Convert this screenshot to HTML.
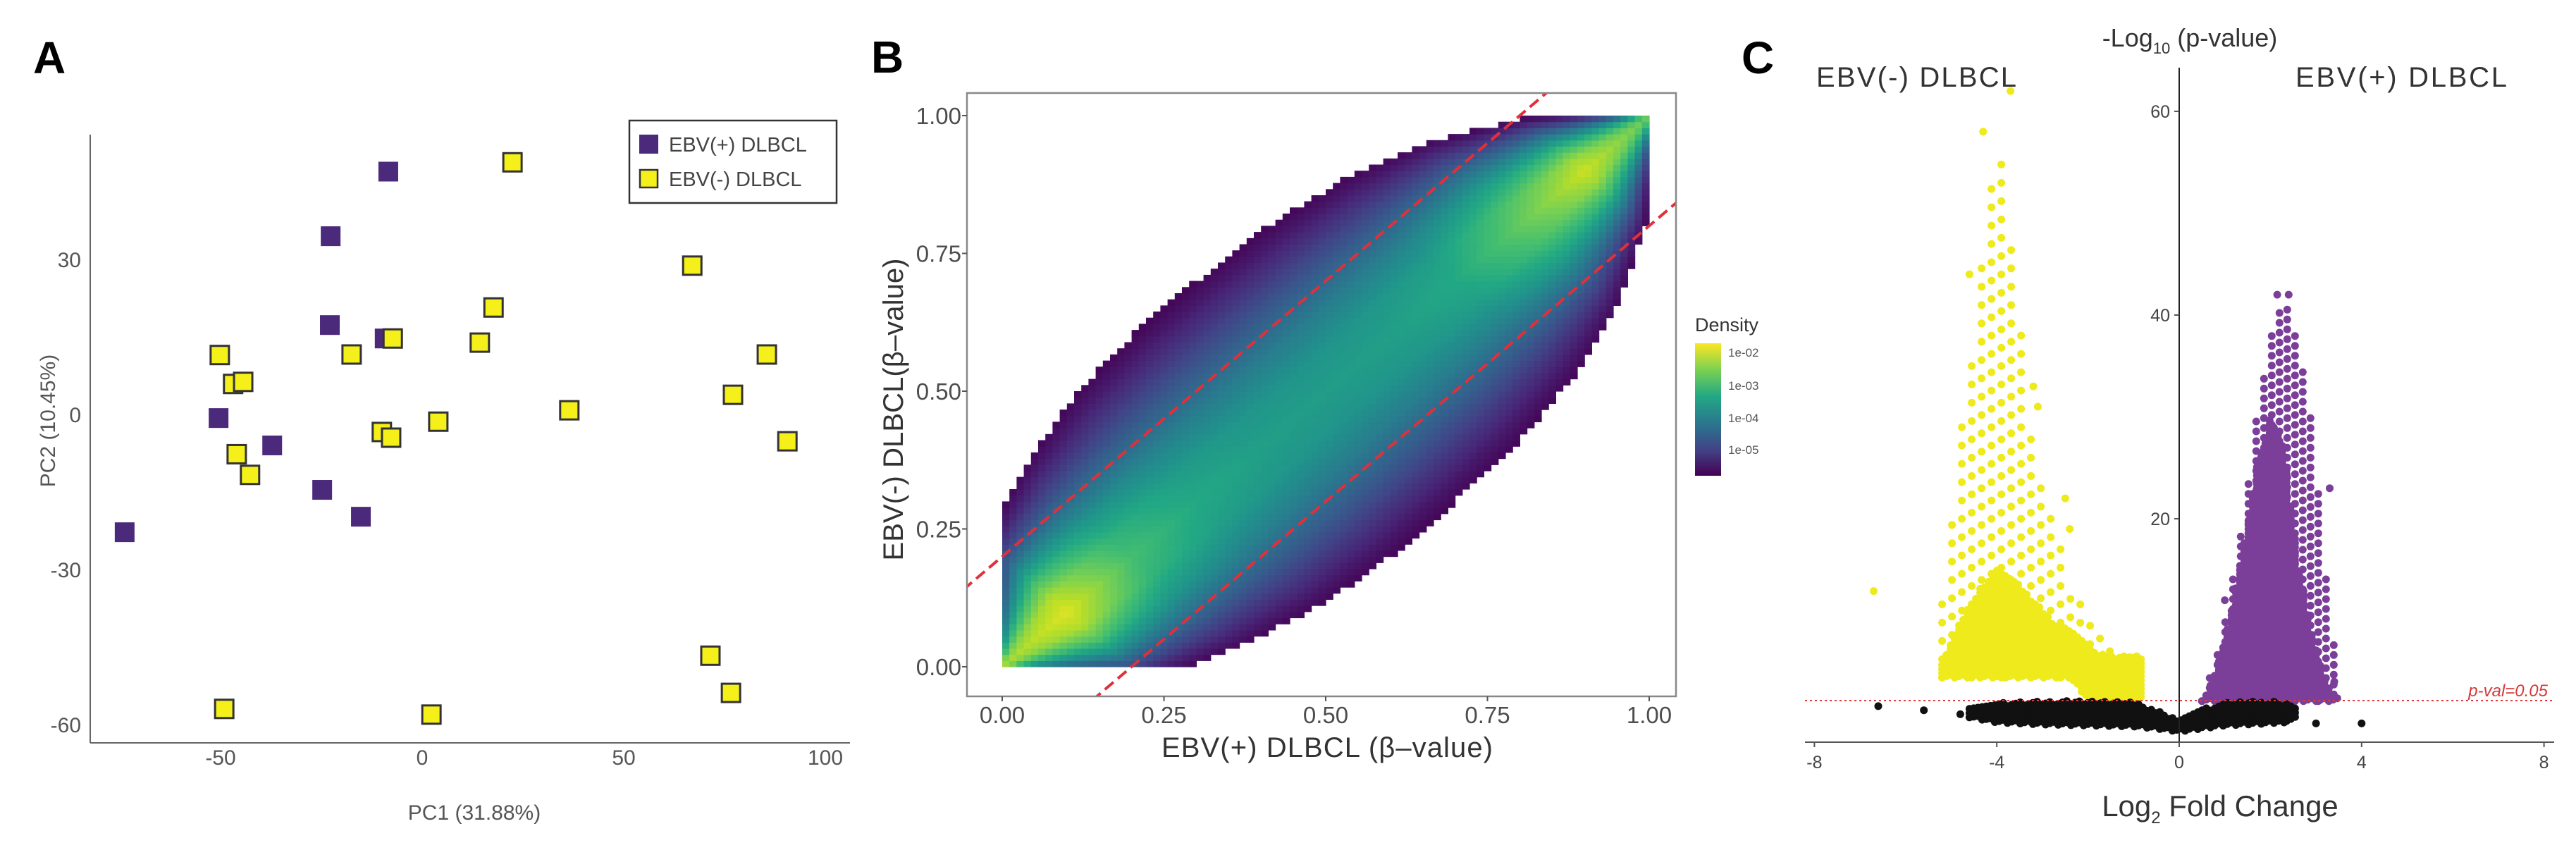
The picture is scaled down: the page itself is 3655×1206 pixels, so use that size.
<!DOCTYPE html>
<html><head><meta charset="utf-8"><style>
html,body{margin:0;padding:0;background:#fff;}
svg{display:block;font-family:"Liberation Sans",Arial,sans-serif;}
</style></head><body>
<svg id="fig" width="3655" height="1206" viewBox="0 0 3655 1206" xmlns="http://www.w3.org/2000/svg">
<rect width="3655" height="1206" fill="#fff"/>
<defs><clipPath id="clipB"><rect x="1372" y="132" width="1006" height="856"/></clipPath></defs>

<text x="47" y="104" font-size="64" font-weight="bold">A</text>
<text x="1236" y="103" font-size="64" font-weight="bold">B</text>
<text x="2471" y="104" font-size="64" font-weight="bold">C</text>

<g id="panelA">
<line x1="128" y1="191" x2="128" y2="1054" stroke="#666" stroke-width="2"/>
<line x1="128" y1="1054" x2="1206" y2="1054" stroke="#666" stroke-width="2"/>
<g id="aTicks" font-size="30" fill="#555"></g>
<g id="aPts"></g>
<text x="673" y="1163" font-size="30" fill="#555" text-anchor="middle">PC1 (31.88%)</text>
<text x="0" y="0" font-size="30" fill="#555" text-anchor="middle" transform="translate(78,597) rotate(-90)">PC2 (10.45%)</text>
<g>
<rect x="893" y="171" width="294" height="117" fill="#fff" stroke="#333" stroke-width="2.5"/>
<g><rect x="907" y="191" width="27" height="27" fill="#4b2a7b"/>
<text x="949" y="215" font-size="29" fill="#444">EBV(+) DLBCL</text></g>
<g><rect x="908" y="241" width="25" height="25" fill="#f5ef1a" stroke="#333" stroke-width="2.5"/>
<text x="949" y="264" font-size="29" fill="#444">EBV(-) DLBCL</text></g>
</g>
</g>

<g id="panelB">
<g id="bCells" clip-path="url(#clipB)"></g>
<g id="bLines" clip-path="url(#clipB)"></g>
<rect x="1372" y="132" width="1006" height="856" fill="none" stroke="#888" stroke-width="2.5"/>
<g id="bTicks" font-size="33" fill="#4d4d4d"></g>
<text x="1883" y="1074" font-size="40" fill="#333" text-anchor="middle" textLength="470">EBV(+) DLBCL (β–value)</text>
<text x="0" y="0" font-size="40" fill="#333" text-anchor="middle" textLength="429" transform="translate(1281,581) rotate(-90)">EBV(-) DLBCL(β–value)</text>
<g>
<text x="2405" y="470" font-size="27" fill="#333">Density</text>
<defs><linearGradient id="vir" x1="0" y1="1" x2="0" y2="0">
<stop offset="0" stop-color="#440154"/><stop offset="0.2" stop-color="#414487"/><stop offset="0.4" stop-color="#2a788e"/><stop offset="0.6" stop-color="#22a884"/><stop offset="0.8" stop-color="#7ad151"/><stop offset="1" stop-color="#fde725"/></linearGradient></defs>
<rect x="2405" y="487" width="37" height="188" fill="url(#vir)"/>
<g font-size="17" fill="#555">
<text x="2452" y="506">1e-02</text>
<text x="2452" y="553">1e-03</text>
<text x="2452" y="599">1e-04</text>
<text x="2452" y="644">1e-05</text>
</g>
</g>
</g>

<g id="panelC">
<g id="cPts"></g>
<line x1="2561" y1="994" x2="3624" y2="994" stroke="#e23b3b" stroke-width="2" stroke-dasharray="3 4"/>
<text x="3615" y="988" font-size="24" fill="#d43a3a" font-style="italic" text-anchor="end">p-val=0.05</text>
<line x1="3092" y1="96" x2="3092" y2="1053" stroke="#222" stroke-width="2"/>
<line x1="2561" y1="1053" x2="3624" y2="1053" stroke="#555" stroke-width="2"/>
<g id="cTicks" font-size="25" fill="#444"></g>
<text x="3107" y="66" font-size="36" fill="#333" text-anchor="middle">-Log<tspan font-size="22" dy="10">10</tspan><tspan dy="-10"> (p-value)</tspan></text>
<text x="2719" y="123" font-size="40" fill="#333" text-anchor="middle" textLength="284">EBV(-) DLBCL</text>
<text x="3407" y="123" font-size="40" fill="#333" text-anchor="middle" textLength="300">EBV(+) DLBCL</text>
<text x="3150" y="1158" font-size="42" fill="#333" text-anchor="middle">Log<tspan font-size="24" dy="10">2</tspan><tspan dy="-10"> Fold Change</tspan></text>
</g>
</svg>
<script>
// ---------- Panel A data ----------
const pcaPosX = [-8.4,-22.7,-22.9,-9.3,-50.5,-37.2,-24.8,-15.2,-73.8];
const pcaPosY = [47,34.5,17.3,14.7,-0.7,-6,-14.6,-19.8,-22.8];
const pcaNegX = [22.4,67,17.7,14.3,-7.3,-17.5,-50.2,85.5,-46.9,-44.4,77.1,36.5,4,-10,-7.7,90.6,-46,-42.7,71.5,76.6,-49.1,2.3];
const pcaNegY = [48.8,28.8,20.7,13.9,14.7,11.6,11.5,11.6,5.9,6.3,3.8,0.8,-1.4,-3.4,-4.5,-5.2,-7.7,-11.7,-46.7,-53.9,-57,-58.1];
const pcaXTicks = [-50,0,50,100];
const pcaYTicks = [30,0,-30,-60];

// ---------- Panel B data ----------
const densU = [0,0.1,0.2,0.3,0.4,0.5,0.6,0.7,0.8,0.9,1.0];
const densHalfWidth = [0.03,0.25,0.33,0.38,0.4,0.4,0.39,0.36,0.3,0.19,0.03];
const densPeak = [0.85,0.95,0.7,0.6,0.56,0.55,0.56,0.6,0.76,0.92,0.75];
const densCrossT = [0,0.2,0.4,0.6,0.75,0.9,1.0];
const densCross = [1,0.93,0.75,0.5,0.3,0.12,0.03];
const densThreshold = [0.2,-0.2];
const densTicks = [0,0.25,0.5,0.75,1.0];
const densTickLabels = ["0.00","0.25","0.50","0.75","1.00"];

// ---------- Panel C data ----------
const yelX = [-5.2,-4.8,-4.4,-4.0,-3.6,-3.2,-2.8,-2.4,-2.0,-1.6,-1.2,-0.8];
const yelDenseTop = [6,10,13,15,14,12,10,9,7.5,6.5,6.5,6.5];
const yelSparseTop = [12,28,42,58,45,27,20,14,10,8,7,6.5];
const yelBottom = [4.4,4.4,4.4,4.4,4.4,4.4,4.4,4.4,2.3,2.2,2.2,2.2];
const purX = [0.5,0.8,1.1,1.4,1.7,2.0,2.3,2.6,2.9,3.2,3.5];
const purDenseTop = [2.2,5,10,17,25,30,27,16,9,4,2.2];
const purSparseTop = [2.5,6,12,20,30,38,42,37,30,15,4];
const purBottom = [2.1,2.1,2.1,2.1,2.1,2.1,2.1,2.1,2.1,2.1,2.1];
const blkX = [-4.6,-4,-3,-2,-1,-0.5,0,0.5,1,2,2.6];
const blkTop = [1.5,2.0,2.1,2.1,2.0,1.2,0.2,1.3,2.0,2.1,1.6];
const blkBottom = [0.5,0,-0.2,-0.3,-0.4,-0.6,-0.9,-0.6,-0.3,-0.1,0.3];
const yelOutX = [-6.7,-3.2,-3.1,-4.6,-3.7,-4.3,-2.5,-2.4];
const yelOutY = [12.9,33,31,44,62,58,22,19];
const purOutX = [2.15,2.4,3.3,1.0,1.5,3.4];
const purOutY = [42,42,23,12,15,4];
const blkOutX = [-6.6,-5.6,3.0,4.0,2.3,-4.8];
const blkOutY = [1.6,1.2,-0.1,-0.1,0,0.8];
const volXTicks = [-8,-4,0,4,8];
const volYTicks = [20,40,60];

const NS="http://www.w3.org/2000/svg";
function mk(tag,attrs,parent){const e=document.createElementNS(NS,tag);for(const k in attrs)e.setAttribute(k,attrs[k]);parent.appendChild(e);return e;}
function interp(xs,ys,v){if(v<=xs[0])return ys[0];for(let i=1;i<xs.length;i++){if(v<=xs[i]){const t=(v-xs[i-1])/(xs[i]-xs[i-1]);return ys[i-1]+t*(ys[i]-ys[i-1]);}}return ys[ys.length-1];}

const ax=v=>599+v*5.72, ay=v=>588-v*7.33;
const aT=document.getElementById('aTicks');
pcaXTicks.forEach(t=>{const e=mk('text',{x:ax(t),y:1085,'text-anchor':'middle'},aT);e.textContent=t;

});
pcaYTicks.forEach(t=>{const e=mk('text',{x:115,y:ay(t)+11,'text-anchor':'end'},aT);e.textContent=t;

});
const aP=document.getElementById('aPts');
pcaPosX.forEach((v,i)=>{const e=mk('rect',{x:ax(v)-14,y:ay(pcaPosY[i])-14,width:28,height:28,fill:'#4b2a7b'},aP);

});
pcaNegX.forEach((v,i)=>{const e=mk('rect',{x:ax(v)-13,y:ay(pcaNegY[i])-13,width:26,height:26,fill:'#f5ef1a',stroke:'#333','stroke-width':3},aP);

});

const bx=v=>1422+v*918, by=v=>946-v*782;
const vir=[[68,1,84],[72,36,117],[65,68,135],[53,95,141],[42,120,142],[33,145,140],[34,168,132],[68,190,112],[122,209,81],[189,223,38],[253,231,37]];
function virc(l){l=Math.max(0,Math.min(1,l))*10;const i=Math.min(9,Math.floor(l)),t=l-i;const a=vir[i],b=vir[i+1];
return 'rgb('+a.map((c,k)=>Math.round(c+(b[k]-c)*t)).join(',')+')';}
const bC=document.getElementById('bCells');
const N=90, step=1/N;
for(let i=0;i<N;i++){for(let j=0;j<N;j++){
  const x=(i+0.5)*step,y=(j+0.5)*step,u=(x+y)/2,d=Math.abs(y-x);
  const hw=interp(densU,densHalfWidth,u); if(d>hw)continue;
  const lvl=interp(densU,densPeak,u)*interp(densCrossT,densCross,d/hw);
  const e=mk('rect',{x:bx(i*step).toFixed(1),y:by((j+1)*step).toFixed(1),width:(918*step+0.6).toFixed(2),height:(782*step+0.6).toFixed(2),fill:virc(lvl)},bC);
  
  
}}
const bL=document.getElementById('bLines');
densThreshold.forEach(c=>{const e=mk('line',{x1:bx(-0.1),y1:by(-0.1+c),x2:bx(1.1),y2:by(1.1+c),stroke:'#e0303a','stroke-width':4,'stroke-dasharray':'16 8'},bL);

});
const bT=document.getElementById('bTicks');
densTicks.forEach((t,i)=>{
 let e=mk('text',{x:bx(t),y:1026,'text-anchor':'middle'},bT);e.textContent=densTickLabels[i];
 
 
 e=mk('text',{x:1364,y:by(t)+12,'text-anchor':'end'},bT);e.textContent=densTickLabels[i];
 
 
 mk('line',{x1:bx(t),y1:988,x2:bx(t),y2:995,stroke:'#555','stroke-width':2},bT);
 mk('line',{x1:1365,y1:by(t),x2:1372,y2:by(t),stroke:'#555','stroke-width':2},bT);
});

const cx=v=>3092+v*64.7, cy=v=>1025-v*14.45;
const cP=document.getElementById('cPts');
function dot(px,py,col,name){const e=mk('circle',{cx:px.toFixed(1),cy:py.toFixed(1),r:5.5,fill:col},cP);

}
function fillRegion(xs,bot,top,col,sx,sy,name){
 const x0=cx(xs[0]),x1=cx(xs[xs.length-1]);let row=0;
 for(let px=x0;px<=x1;px+=sx,row++){
  const v=xs[0]+(px-x0)/64.7;
  const yb=cy(interp(xs,bot,v)),yt=cy(interp(xs,top,v));
  for(let py=yb-(row%3)*sy/3;py>=yt;py-=sy)dot(px,py,col,name);
 }
}
fillRegion(yelX,yelBottom,yelSparseTop,'#eeea1c',14,26,'volcano-point-ebv-neg');
fillRegion(yelX,yelBottom,yelDenseTop,'#eeea1c',6,6,'volcano-point-ebv-neg');
fillRegion(purX,purBottom,purSparseTop,'#7b3f9a',11,14,'volcano-point-ebv-pos');
fillRegion(purX,purBottom,purDenseTop,'#7b3f9a',6,6,'volcano-point-ebv-pos');
fillRegion(blkX,blkBottom,blkTop,'#111',6,6,'volcano-point-ns');
yelOutX.forEach((v,i)=>dot(cx(v),cy(yelOutY[i]),'#eeea1c','volcano-point-ebv-neg'));
purOutX.forEach((v,i)=>dot(cx(v),cy(purOutY[i]),'#7b3f9a','volcano-point-ebv-pos'));
blkOutX.forEach((v,i)=>dot(cx(v),cy(blkOutY[i]),'#111','volcano-point-ns'));
const cT=document.getElementById('cTicks');
volXTicks.forEach(t=>{const e=mk('text',{x:cx(t),y:1090,'text-anchor':'middle'},cT);e.textContent=t;


mk('line',{x1:cx(t),y1:1053,x2:cx(t),y2:1060,stroke:'#555','stroke-width':2},cT);});
volYTicks.forEach(t=>{const e=mk('text',{x:3079,y:cy(t)+9,'text-anchor':'end'},cT);e.textContent=t;


mk('line',{x1:3085,y1:cy(t),x2:3092,y2:cy(t),stroke:'#555','stroke-width':2},cT);});
</script>
</body></html>
